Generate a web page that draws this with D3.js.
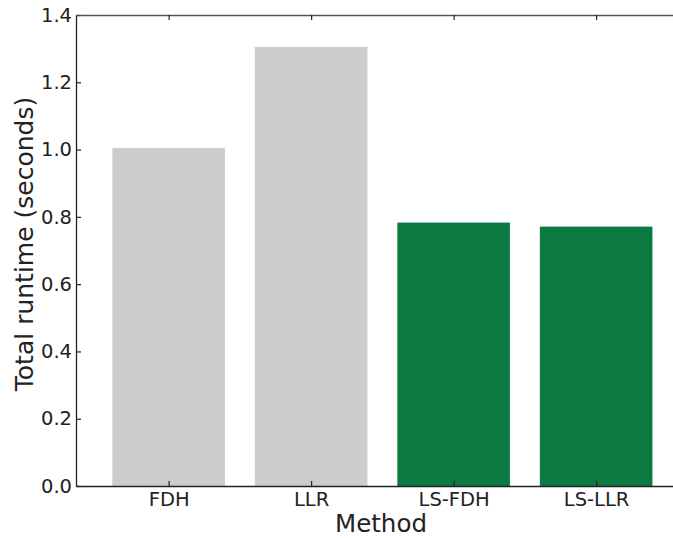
<!DOCTYPE html>
<html>
<head>
<meta charset="utf-8">
<script src="https://cdn.jsdelivr.net/npm/d3@7/dist/d3.min.js"></script>
<style>
  html, body { margin: 0; padding: 0; background: #fff; }
  svg { display: block; font-family: "DejaVu Sans", sans-serif; }
</style>
</head>
<body>
<svg id="chart" width="673" height="538"></svg>
<script>
// Runtime per method
const methods = ["FDH", "LLR", "LS-FDH", "LS-LLR"];
const runtimes = [1.005, 1.305, 0.783, 0.771];
const barColors = ["#cccccc", "#cccccc", "#0a7a40", "#0a7a40"];
const yTicks = [0.0, 0.2, 0.4, 0.6, 0.8, 1.0, 1.2, 1.4];

const svg = d3.select("#chart");
const plotLeft = 76, plotTop = 15, plotBottom = 486;
const step = 142.5;

const x = d3.scaleLinear().domain([-0.65, 3.65]).range([plotLeft, plotLeft + step * 4.3]);
const y = d3.scaleLinear().domain([0, 1.4]).range([plotBottom, plotTop]);
const barW = 0.79;

// bars
svg.append("g").selectAll("rect").data(methods).join("rect")
  .attr("x", (d, i) => x(i - barW / 2))
  .attr("width", (d, i) => x(i + barW / 2) - x(i - barW / 2))
  .attr("y", (d, i) => y(runtimes[i]))
  .attr("height", (d, i) => y(0) - y(runtimes[i]))
  .attr("fill", (d, i) => barColors[i]);

// y axis with inward ticks
const yAxis = d3.axisLeft(y).tickValues(yTicks).tickFormat(d3.format(".1f"))
  .tickSizeInner(-5).tickSizeOuter(0).tickPadding(4);
const gy = svg.append("g").attr("transform", `translate(${plotLeft},0)`).call(yAxis);
gy.select(".domain").attr("stroke", "#222").attr("stroke-width", 1.3);
gy.selectAll(".tick line").attr("stroke", "#222").attr("stroke-width", 1.2);
gy.selectAll(".tick text").attr("font-size", 19.5).attr("fill", "#222")
  .attr("font-family", "DejaVu Sans");

// x axis with inward ticks at bar centres
const xAxis = d3.axisBottom(x).tickValues(d3.range(methods.length))
  .tickFormat(i => methods[i]).tickSizeInner(-5).tickSizeOuter(0).tickPadding(6);
const gx = svg.append("g").attr("transform", `translate(0,${plotBottom})`).call(xAxis);
gx.select(".domain").attr("stroke", "#222").attr("stroke-width", 1.3);
gx.selectAll(".tick line").attr("stroke", "#222").attr("stroke-width", 1.2);
gx.selectAll(".tick text").attr("font-size", 19.5).attr("fill", "#222")
  .attr("font-family", "DejaVu Sans");

// top spine with inward ticks
const xTop = d3.axisTop(x).tickValues(d3.range(methods.length)).tickFormat("")
  .tickSizeInner(-5).tickSizeOuter(0);
const gt = svg.append("g").attr("transform", `translate(0,${plotTop})`).call(xTop);
gt.select(".domain").attr("stroke", "#555").attr("stroke-width", 1.5);
gt.selectAll(".tick line").attr("stroke", "#222").attr("stroke-width", 1.2);

// axis titles
svg.append("text").attr("x", 381).attr("y", 532).attr("text-anchor", "middle")
  .attr("font-size", 24.5).attr("fill", "#222").text("Method");
svg.append("text").attr("transform", "translate(33,244) rotate(-90)")
  .attr("text-anchor", "middle").attr("font-size", 25).attr("fill", "#222")
  .text("Total runtime (seconds)");
</script>
</body>
</html>
